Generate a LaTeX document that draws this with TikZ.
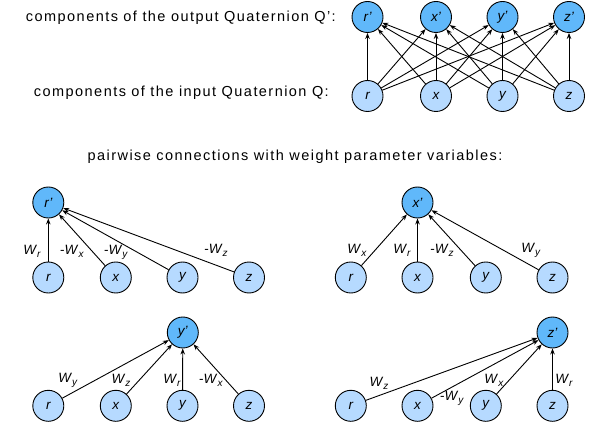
\documentclass[tikz,border=0pt]{standalone}
\usepackage{fontspec}
\setmainfont{Liberation Sans}
\newfontfamily\captfont[LetterSpace=10]{Liberation Sans}
\usetikzlibrary{arrows.meta}
\definecolor{outblue}{RGB}{96,184,250}
\definecolor{inblue}{RGB}{182,218,255}
\newcommand{\wl}[1]{\textit{W}\raisebox{-0.45ex}{\fontsize{10}{11}\selectfont\textit{#1}}}
\begin{document}
\begin{tikzpicture}[x=1pt,y=-1pt,
  outn/.style={circle,draw=black,line width=0.9pt,fill=outblue,minimum size=31pt,inner sep=0pt,font=\itshape\fontsize{13.5}{15}\selectfont},
  inn/.style={circle,draw=black,line width=0.9pt,fill=inblue,minimum size=31pt,inner sep=0pt,font=\itshape\fontsize{13.5}{15}\selectfont},
  conn/.style={-{Stealth[length=6pt,width=4.5pt]},line width=0.9pt},
  wlab/.style={font=\fontsize{13.5}{15}\selectfont,inner sep=0pt},
  capt/.style={font=\captfont\fontsize{14.5}{16}\selectfont,inner sep=0pt}]
\useasboundingbox (0,0) rectangle (596,430);

% top: full connections
\node[capt,anchor=east] (c1) at (336,18) {components of the output Quaternion Q’:};
\node[capt,anchor=east] (c2) at (329,93) {components of the input Quaternion Q:};
\node[outn] (or) at (367.5,17) {r’};
\node[outn] (ox) at (436,17) {x’};
\node[outn] (oy) at (502.5,17) {y’};
\node[outn] (oz) at (569,17) {z’};
\node[inn] (ir) at (367.5,96) {r};
\node[inn] (ix) at (436,96) {x};
\node[inn] (iy) at (502.5,96) {y};
\node[inn] (iz) at (569,96) {z};
\foreach \a in {ir,ix,iy,iz}
  \foreach \b in {or,ox,oy,oz}
    \draw[conn] (\a) -- (\b);

\node[capt] (c3) at (295,157) {pairwise connections with weight parameter variables:};

% panel 1: r'
\node[outn] (ar') at (48.3,202.5) {r’};
\node[inn] (ar) at (48.3,277.5) {r};
\node[inn] (ax) at (115.8,277.5) {x};
\node[inn] (ay) at (182.5,277.5) {y};
\node[inn] (az) at (249,277.5) {z};
\draw[conn] (ar) -- (ar');
\draw[conn] (ax) -- (ar');
\draw[conn] (ay) -- (ar');
\draw[conn] (az) -- (ar');
\node[wlab] (la1) at (32,251) {\wl{r}};
\node[wlab] (la2) at (72,251) {-\wl{x}};
\node[wlab] (la3) at (116,252) {-\wl{y}};
\node[wlab] (la4) at (216,250) {-\wl{z}};

% panel 2: x'
\node[outn] (bx') at (417.5,202.5) {x’};
\node[inn] (br) at (350.8,277.5) {r};
\node[inn] (bx) at (417.5,277.5) {x};
\node[inn] (by) at (485.8,277.5) {y};
\node[inn] (bz) at (552.5,277.5) {z};
\draw[conn] (br) -- (bx');
\draw[conn] (bx) -- (bx');
\draw[conn] (by) -- (bx');
\draw[conn] (bz) -- (bx');
\node[wlab] (lb1) at (357,250) {\wl{x}};
\node[wlab] (lb2) at (402,250) {\wl{r}};
\node[wlab] (lb3) at (442,250) {-\wl{z}};
\node[wlab] (lb4) at (531,250) {\wl{y}};

% panel 3: y'
\node[outn] (cy') at (182.8,332.5) {y’};
\node[inn] (cr) at (48.3,405.8) {r};
\node[inn] (cx) at (115.8,405.8) {x};
\node[inn] (cy) at (182.5,405.8) {y};
\node[inn] (cz) at (249,405.8) {z};
\draw[conn] (cr) -- (cy');
\draw[conn] (cx) -- (cy');
\draw[conn] (cy) -- (cy');
\draw[conn] (cz) -- (cy');
\node[wlab] (lc1) at (68,380) {\wl{y}};
\node[wlab] (lc2) at (121,380) {\wl{z}};
\node[wlab] (lc3) at (172,380) {\wl{r}};
\node[wlab] (lc4) at (211,380) {-\wl{x}};

% panel 4: z'
\node[outn] (dz') at (552.5,332.5) {z’};
\node[inn] (dr) at (350.8,405.8) {r};
\node[inn] (dx) at (417.5,405.8) {x};
\node[inn] (dy) at (485.8,405.8) {y};
\node[inn] (dz) at (552.5,405.8) {z};
\draw[conn] (dr) -- (dz');
\draw[conn] (dx) -- (dz');
\draw[conn] (dy) -- (dz');
\draw[conn] (dz) -- (dz');
\node[wlab] (ld1) at (379,383) {\wl{z}};
\node[wlab] (ld2) at (452,398) {-\wl{y}};
\node[wlab] (ld3) at (494,380) {\wl{x}};
\node[wlab] (ld4) at (564,380) {\wl{r}};
\end{tikzpicture}
\end{document}
